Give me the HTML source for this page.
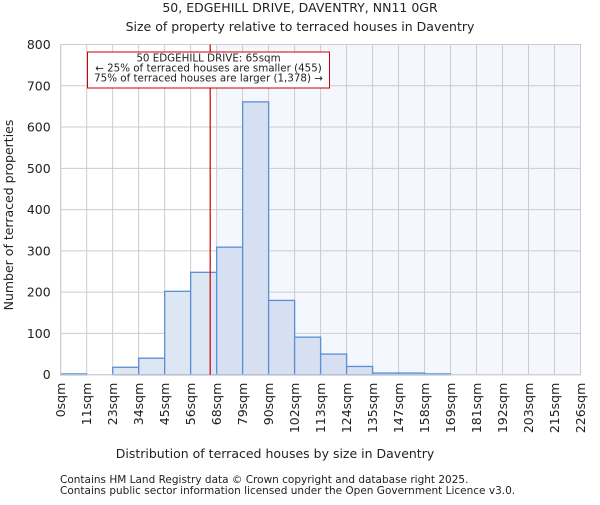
<!DOCTYPE html>
<html><head><meta charset="utf-8"><style>
body{margin:0;background:#fff}
svg text{font-family:"DejaVu Sans","Liberation Sans",sans-serif;fill:#222}
</style></head><body>
<svg id="c" width="600" height="500">
<text x="300" y="12" text-anchor="middle" font-size="12.5">50, EDGEHILL DRIVE, DAVENTRY, NN11 0GR</text>
<text x="300" y="31" text-anchor="middle" font-size="12.5">Size of property relative to terraced houses in Daventry</text>
<g id="plot"></g>
<text x="275" y="458" text-anchor="middle" font-size="12.5">Distribution of terraced houses by size in Daventry</text>
<text transform="translate(13,215) rotate(-90)" text-anchor="middle" font-size="12.5">Number of terraced properties</text>
<text x="60" y="483" font-size="10.5">Contains HM Land Registry data © Crown copyright and database right 2025.</text>
<text x="60" y="494" font-size="10.5">Contains public sector information licensed under the Open Government Licence v3.0.</text>
</svg>
<script>
const binLabels=["0sqm","11sqm","23sqm","34sqm","45sqm","56sqm","68sqm","79sqm","90sqm","102sqm","113sqm","124sqm","135sqm","147sqm","158sqm","169sqm","181sqm","192sqm","203sqm","215sqm","226sqm"];
const binEdges=[0,11.3,22.6,33.9,45.2,56.5,67.8,79.1,90.4,101.7,113,124.3,135.6,146.9,158.2,169.5,180.8,192.1,203.4,214.7,226];
const counts=[2,0,18,40,202,248,309,661,180,91,50,20,4,4,2,0,0,0,0,0];
const yTicks=[0,100,200,300,400,500,600,700,800];
const propertySize=65;
const L=60.7,R=580.5,T=44.5,B=374.7,NS="http://www.w3.org/2000/svg";
const xMin=binEdges[0],xMax=binEdges[binEdges.length-1];
const xs=v=>L+(v-xMin)/(xMax-xMin)*(R-L);
const ys=v=>B-v/800*(B-T);
const g=document.getElementById('plot');
function mk(t,a){const e=document.createElementNS(NS,t);for(const k in a)e.setAttribute(k,a[k]);g.appendChild(e);return e;}
const shadeStart=binEdges.find(e=>e>=propertySize);
let e=mk('rect',{x:xs(shadeStart),y:T,width:R-xs(shadeStart),height:B-T,fill:'#f4f7fd'});


binEdges.forEach((b,i)=>{const x=xs(b);
 let l=mk('line',{x1:x,x2:x,y1:T,y2:B,stroke:'#cccccc','stroke-width':1});
 
 
 let t=mk('text',{transform:`translate(${x+4.5},${B+8}) rotate(-90)`,'text-anchor':'end','font-size':12.5});
 t.textContent=binLabels[i];
 
 
});
yTicks.forEach(v=>{const y=ys(v);
 let l=mk('line',{x1:L,x2:R,y1:y,y2:y,stroke:'#cccccc','stroke-width':1});
 
 
 let t=mk('text',{x:L-10,y:y+4.5,'text-anchor':'end','font-size':12.5});
 t.textContent=v;
 
 
});
counts.forEach((c,i)=>{if(c<=0)return;
 const x0=xs(binEdges[i]),x1=xs(binEdges[i+1]);
 let r=mk('rect',{x:x0,y:ys(c),width:x1-x0,height:B-ys(c),fill:binEdges[i+1]<=propertySize+3?'#dde6f3':'#d6e0f2',stroke:'#5a8fd6','stroke-width':1.3});
 
 
});
let fr=mk('rect',{x:L,y:T,width:R-L,height:B-T,fill:'none',stroke:'#cccccc'});


const px=xs(propertySize);
let rl=mk('line',{x1:px,x2:px,y1:T,y2:B,stroke:'#cc0000','stroke-width':1.2});


let box=mk('rect',{x:87.5,y:52,width:242,height:36,fill:'#fff',stroke:'#cc0000','stroke-width':1});


["50 EDGEHILL DRIVE: 65sqm","← 25% of terraced houses are smaller (455)","75% of terraced houses are larger (1,378) →"].forEach((s,i)=>{
 let t=mk('text',{x:208.5,y:61.5+i*10,'text-anchor':'middle','font-size':10.3});
 t.textContent=s;
 
 
});
</script>
</body></html>
